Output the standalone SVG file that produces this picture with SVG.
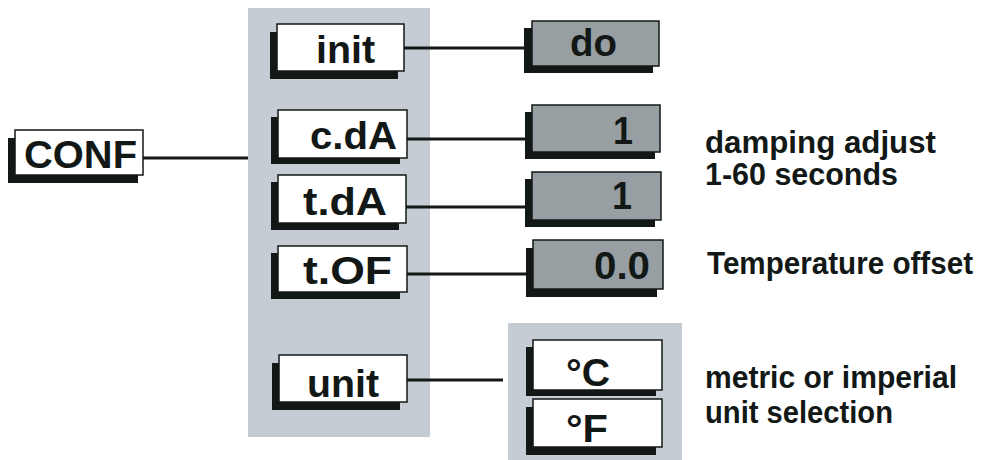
<svg xmlns="http://www.w3.org/2000/svg" width="984" height="460" viewBox="0 0 984 460">
<style>
.panel{fill:#c5ccd3}
.sh{fill:#121816}
.bw{fill:#ffffff;stroke:#121816;stroke-width:1.5}
.bg{fill:#979fa3;stroke:#121816;stroke-width:1.5}
.lbl{font-family:"Liberation Sans",Arial,sans-serif;font-weight:bold;font-size:39px;fill:#121816}
.note{font-family:"Liberation Sans",Arial,sans-serif;font-weight:bold;font-size:31px;fill:#121816}
.con{stroke:#121816;stroke-width:3;fill:none}
</style>
<rect width="984" height="460" fill="#ffffff"/>
<rect class="panel" x="248" y="8" width="182" height="429"/>
<rect class="panel" x="508" y="323" width="174" height="137"/>
<g id="connectors">
<line class="con" x1="143" y1="158" x2="248" y2="158"/>
<line class="con" x1="404" y1="48" x2="532" y2="48"/>
<line class="con" x1="407" y1="139" x2="532" y2="139"/>
<line class="con" x1="406" y1="207" x2="532" y2="207"/>
<line class="con" x1="407" y1="274" x2="533" y2="274"/>
<line class="con" x1="407" y1="380" x2="503" y2="380"/>
</g>
<g id="conf"><rect class="sh" x="8" y="138" width="130" height="45"/><rect class="bw" x="15" y="130" width="128" height="45"/><text class="lbl" x="24" y="168" textLength="113" lengthAdjust="spacingAndGlyphs">CONF</text></g>
<g id="init"><rect class="sh" x="270" y="32" width="128" height="47"/><rect class="bw" x="277" y="24" width="127" height="47"/><text class="lbl" x="316" y="63" textLength="59" lengthAdjust="spacingAndGlyphs">init</text></g>
<g id="cdA"><rect class="sh" x="271" y="117" width="129" height="47"/><rect class="bw" x="278" y="110" width="129" height="48"/><text class="lbl" x="310" y="149" textLength="87" lengthAdjust="spacingAndGlyphs">c.dA</text></g>
<g id="tdA"><rect class="sh" x="271" y="182" width="128" height="48"/><rect class="bw" x="278" y="175" width="128" height="48"/><text class="lbl" x="303" y="215" textLength="84" lengthAdjust="spacingAndGlyphs">t.dA</text></g>
<g id="tOF"><rect class="sh" x="271" y="253" width="129" height="46"/><rect class="bw" x="278" y="246" width="129" height="46"/><text class="lbl" x="303" y="284" textLength="89" lengthAdjust="spacingAndGlyphs">t.OF</text></g>
<g id="unit"><rect class="sh" x="272" y="363" width="128" height="47"/><rect class="bw" x="279" y="355" width="128" height="47"/><text class="lbl" x="307" y="397" textLength="72" lengthAdjust="spacingAndGlyphs">unit</text></g>
<g id="do"><rect class="sh" x="524" y="28" width="129" height="45"/><rect class="bg" x="532" y="21" width="127" height="45"/><text class="lbl" x="570" y="56" textLength="47" lengthAdjust="spacingAndGlyphs">do</text></g>
<g id="val-cdA"><rect class="sh" x="525" y="112" width="130" height="47"/><rect class="bg" x="532" y="105" width="128" height="47"/><text class="lbl" x="613" y="144" textLength="20" lengthAdjust="spacingAndGlyphs">1</text></g>
<g id="val-tdA"><rect class="sh" x="525" y="179" width="130" height="48"/><rect class="bg" x="532" y="172" width="129" height="48"/><text class="lbl" x="612" y="209" textLength="20" lengthAdjust="spacingAndGlyphs">1</text></g>
<g id="val-tOF"><rect class="sh" x="526" y="248" width="131" height="49"/><rect class="bg" x="533" y="240" width="130" height="49"/><text class="lbl" x="594" y="279" textLength="56" lengthAdjust="spacingAndGlyphs">0.0</text></g>
<g id="degC"><rect class="sh" x="526" y="347" width="130" height="49"/><rect class="bw" x="533" y="340" width="129" height="50"/><text class="lbl" x="566" y="386" textLength="44" lengthAdjust="spacingAndGlyphs">°C</text></g>
<g id="degF"><rect class="sh" x="526" y="407" width="130" height="48"/><rect class="bw" x="533" y="399" width="129" height="48"/><text class="lbl" x="566" y="442" textLength="42" lengthAdjust="spacingAndGlyphs">°F</text></g>
<g id="notes">
<text class="note" x="705" y="153" textLength="231" lengthAdjust="spacingAndGlyphs">damping adjust</text>
<text class="note" x="705" y="185" textLength="193" lengthAdjust="spacingAndGlyphs">1-60 seconds</text>
<text class="note" x="707" y="274" textLength="266" lengthAdjust="spacingAndGlyphs">Temperature offset</text>
<text class="note" x="705" y="388" textLength="252" lengthAdjust="spacingAndGlyphs">metric or imperial</text>
<text class="note" x="705" y="423" textLength="188" lengthAdjust="spacingAndGlyphs">unit selection</text>
</g>
</svg>
